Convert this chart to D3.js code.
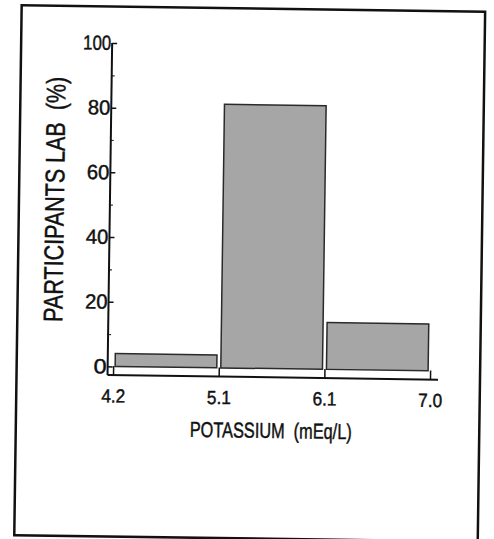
<!DOCTYPE html>
<html>
<head>
<meta charset="utf-8">
<script src="https://cdn.jsdelivr.net/npm/d3@7"></script>
<style>
  html, body { margin: 0; padding: 0; background: #fff; }
  svg { display: block; }
  text { font-family: "Liberation Sans", Arial, Helvetica, sans-serif; fill: #111; stroke: #111; stroke-width: 0.45px; }
</style>
</head>
<body>
<svg id="chart" width="494" height="539"></svg>
<script>
// ---- data ----
const binEdges = ["4.2", "5.1", "6.1", "7.0"];          // x tick labels (bin edges, mEq/L)
const percentages = [4, 81.5, 14.5];                     // % of participant labs per bin
const yTickValues = [0, 20, 40, 60, 80, 100];
const yMinorTickValues = [10, 30, 50, 70, 90];
const yTitle = "PARTICIPANTS LAB  (%)";
const xTitle = "POTASSIUM  (mEq/L)";

const svg = d3.select("#chart");
svg.append("rect").attr("width", 494).attr("height", 539).attr("fill", "#fff");

// whole scanned page is slightly rotated
const g = svg.append("g").attr("transform", "rotate(0.8, 250, 270)");

// frame
g.append("rect")
  .attr("x", 18).attr("y", 8.5)
  .attr("width", 463.5).attr("height", 530)
  .attr("fill", "none").attr("stroke", "#111").attr("stroke-width", 2.5);

const x = d3.scaleLinear().domain([0, binEdges.length - 1]).range([114.5, 431.5]);
const y = d3.scaleLinear().domain([0, 100]).range([368.3, 44.9]);
const axisY = y(0) + 8.7;   // x-axis is offset below zero
const axisX = x(0) - 5.5;   // y-axis is offset left of first edge

// bars
const pad = 2;
g.selectAll("rect.bar")
  .data(percentages)
  .join("rect")
  .attr("class", "bar")
  .attr("x", (d, i) => x(i) + pad)
  .attr("width", (d, i) => x(i + 1) - x(i) - 2 * pad)
  .attr("y", d => y(d))
  .attr("height", d => y(0) - y(d))
  .attr("fill", "#a6a6a6")
  .attr("stroke", "#2a2a2a")
  .attr("stroke-width", 1.5);

// x axis
const xAxis = d3.axisBottom(x)
  .tickValues(d3.range(binEdges.length))
  .tickFormat(i => binEdges[i])
  .tickSizeInner(-9)
  .tickSizeOuter(0)
  .tickPadding(14);
const gx = g.append("g").attr("transform", `translate(0,${axisY})`).call(xAxis);
gx.attr("font-size", null).attr("font-family", null);
gx.select(".domain").remove();
gx.selectAll(".tick line").attr("stroke", "#111").attr("stroke-width", 1.5);
gx.selectAll(".tick text")
  .style("font-size", "19px")
  .attr("textLength", 24)
  .attr("lengthAdjust", "spacingAndGlyphs")
  .attr("fill", "#111");
g.append("line")
  .attr("x1", axisX).attr("x2", x(binEdges.length - 1) + 8)
  .attr("y1", axisY).attr("y2", axisY)
  .attr("stroke", "#111").attr("stroke-width", 2);

// y axis
const yAxis = d3.axisLeft(y)
  .tickValues(yTickValues)
  .tickFormat(d3.format("d"))
  .tickSizeInner(-5)
  .tickSizeOuter(0)
  .tickPadding(1);
const gy = g.append("g").attr("transform", `translate(${axisX},0)`).call(yAxis);
gy.attr("font-size", null).attr("font-family", null);
gy.select(".domain").remove();
gy.selectAll(".tick line").attr("stroke", "#111").attr("stroke-width", 1.5);
const labelWidths = [13, 22.5, 28];
gy.selectAll(".tick text")
  .style("font-size", "20.5px")
  .attr("textLength", function () { return labelWidths[this.textContent.length - 1]; })
  .attr("lengthAdjust", "spacingAndGlyphs")
  .attr("fill", "#111");

const yMinor = d3.axisLeft(y)
  .tickValues(yMinorTickValues)
  .tickFormat("")
  .tickSizeInner(-3)
  .tickSizeOuter(0);
const gym = g.append("g").attr("transform", `translate(${axisX},0)`).call(yMinor);
gym.select(".domain").remove();
gym.selectAll(".tick line").attr("stroke", "#333").attr("stroke-width", 1.2);

g.append("line")
  .attr("x1", axisX).attr("x2", axisX)
  .attr("y1", y(100)).attr("y2", axisY)
  .attr("stroke", "#111").attr("stroke-width", 2);

// titles
g.append("text")
  .attr("transform", `translate(63, 202) rotate(-90)`)
  .attr("text-anchor", "middle")
  .style("font-size", "27px")
  .attr("textLength", 245)
  .attr("lengthAdjust", "spacingAndGlyphs")
  .attr("xml:space", "preserve")
  .text(yTitle);

g.append("text")
  .attr("x", (x(0) + x(binEdges.length - 1)) / 2)
  .attr("y", 437.7)
  .attr("text-anchor", "middle")
  .style("font-size", "21.5px")
  .attr("textLength", 162)
  .attr("lengthAdjust", "spacingAndGlyphs")
  .attr("xml:space", "preserve")
  .text(xTitle);
</script>
</body>
</html>
